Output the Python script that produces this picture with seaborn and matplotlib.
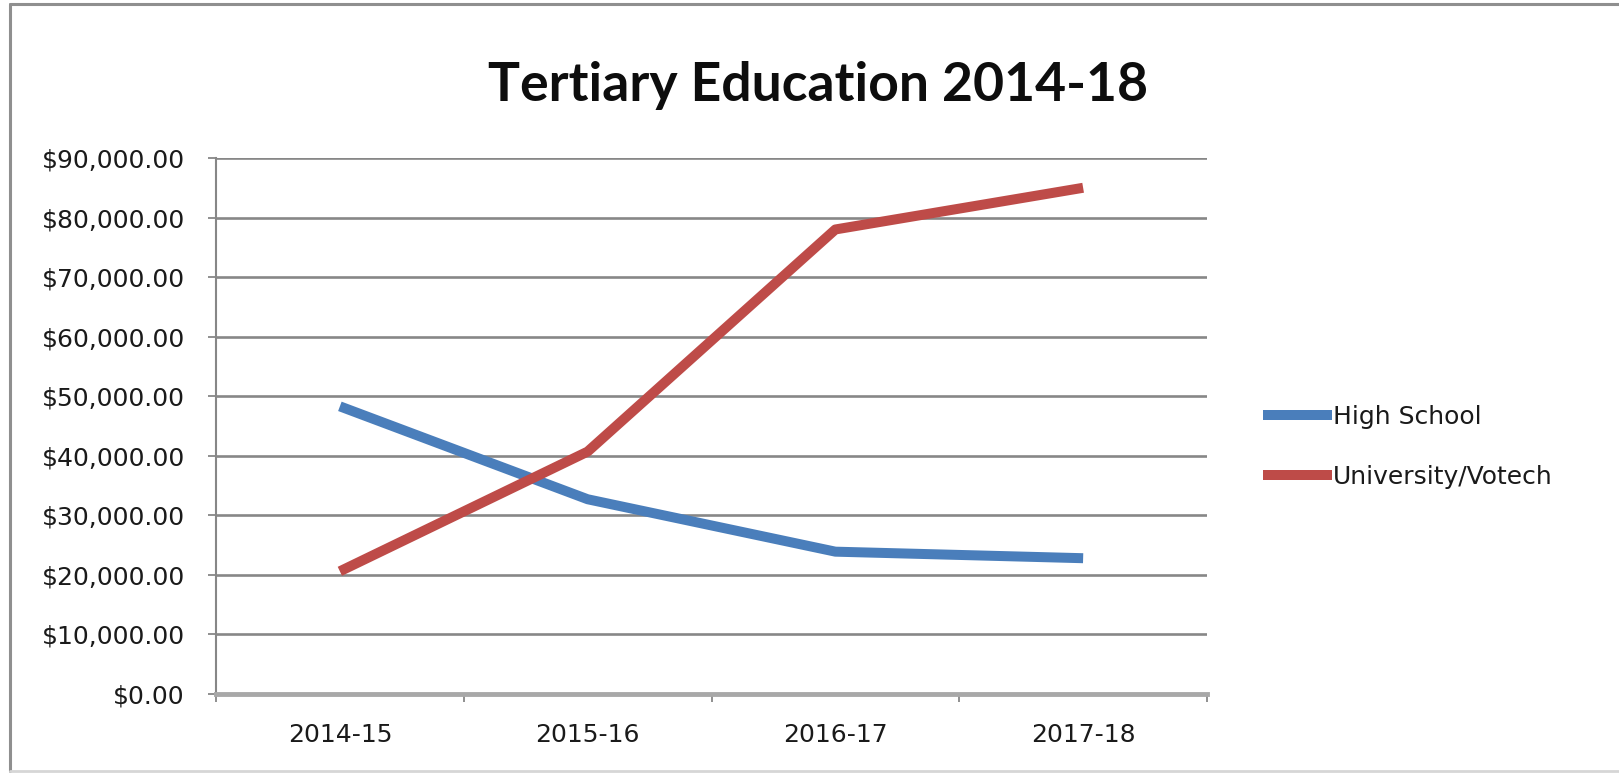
import matplotlib
matplotlib.use("Agg")
import matplotlib.pyplot as plt
from matplotlib.lines import Line2D
import seaborn as sns
import pandas as pd

# School years and the two spending series
years = ["2014-15", "2015-16", "2016-17", "2017-18"]
high_school = [48300, 32700, 23900, 22800]
university_votech = [20600, 40700, 78000, 85000]
series_names = ["High School", "University/Votech"]
series_colors = ["#4A7EBB", "#BE4B48"]
y_ticks = [0, 10000, 20000, 30000, 40000, 50000, 60000, 70000, 80000, 90000]
title = "Tertiary Education 2014-18"

df = pd.DataFrame({
    "year": years * 2,
    "amount": high_school + university_votech,
    "series": [series_names[0]] * len(years) + [series_names[1]] * len(years),
})

sns.set_theme(style="white")
plt.rcParams["font.family"] = ["DejaVu Sans"]

W, H = 1619, 775
fig = plt.figure(figsize=(W / 100, H / 100), dpi=100)
fig.patch.set_facecolor("white")

left, right, top, bottom = 216, 1207, 158, 694
ax = fig.add_axes([left / W, 1 - bottom / H, (right - left) / W, (bottom - top) / H])

sns.lineplot(
    data=df, x="year", y="amount", hue="series", hue_order=series_names,
    palette=series_colors, linewidth=7.2, sort=False, ax=ax,
    solid_joinstyle="round", solid_capstyle="butt",
)

grid_color = "#878787"
ax.set_ylim(0, 90000)
ax.set_xlim(-0.5, len(years) - 0.5)
ax.set_yticks(y_ticks)
ax.set_yticklabels([f"${v:,.2f}" for v in y_ticks])
for v in y_ticks[1:]:
    ax.axhline(v, color=grid_color, lw=1.9, zorder=0)

# category boundaries carry the tick marks, labels sit at the centres
ax.set_xticks([i - 0.5 for i in range(len(years) + 1)])
ax.set_xticklabels([""] * (len(years) + 1))
ax.set_xticks(range(len(years)), minor=True)
ax.set_xticklabels(years, minor=True)
ax.tick_params(axis="x", which="major", direction="out", length=6, width=1.3,
               color=grid_color, bottom=True)
ax.tick_params(axis="x", which="minor", length=0, pad=21, labelsize=18,
               labelcolor="#1a1a1a")
ax.tick_params(axis="y", direction="out", length=6, width=1.3, color=grid_color,
               left=True, pad=16.5, labelsize=18, labelcolor="#1a1a1a")

for s in ["top", "right"]:
    ax.spines[s].set_visible(False)
ax.spines["left"].set_color(grid_color)
ax.spines["left"].set_linewidth(1.5)
ax.spines["bottom"].set_color("#A8A8A8")
ax.spines["bottom"].set_linewidth(3.5)
ax.set_xlabel("")
ax.set_ylabel("")

leg = ax.legend(
    loc="center left", bbox_to_anchor=(1263 / W, 1 - 447 / H),
    bbox_transform=fig.transFigure, frameon=False, fontsize=18,
    handlelength=2.75, handletextpad=0.05, labelspacing=1.45,
    borderpad=0, borderaxespad=0,
)
for h in leg.get_lines():
    h.set_linewidth(7.2)
for t in leg.get_texts():
    t.set_color("#1a1a1a")

fig.text(818 / W, 1 - 101 / H, title, ha="center", va="baseline",
         fontsize=38.5, fontweight="bold", family=["Lato", "DejaVu Sans"],
         color="#0d0d0d")

# chart frame
fig.add_artist(Line2D([10 / W, 1], [1 - 4 / H, 1 - 4 / H], transform=fig.transFigure,
                      color="#8f8f8f", lw=2.2))
fig.add_artist(Line2D([10 / W, 10 / W], [1 - 4 / H, 1 - 771 / H], transform=fig.transFigure,
                      color="#8f8f8f", lw=2.2))
fig.add_artist(Line2D([10 / W, 1], [1 - 771 / H, 1 - 771 / H], transform=fig.transFigure,
                      color="#d6d6d6", lw=2))

fig.savefig("out.png", dpi=100, facecolor="white")
